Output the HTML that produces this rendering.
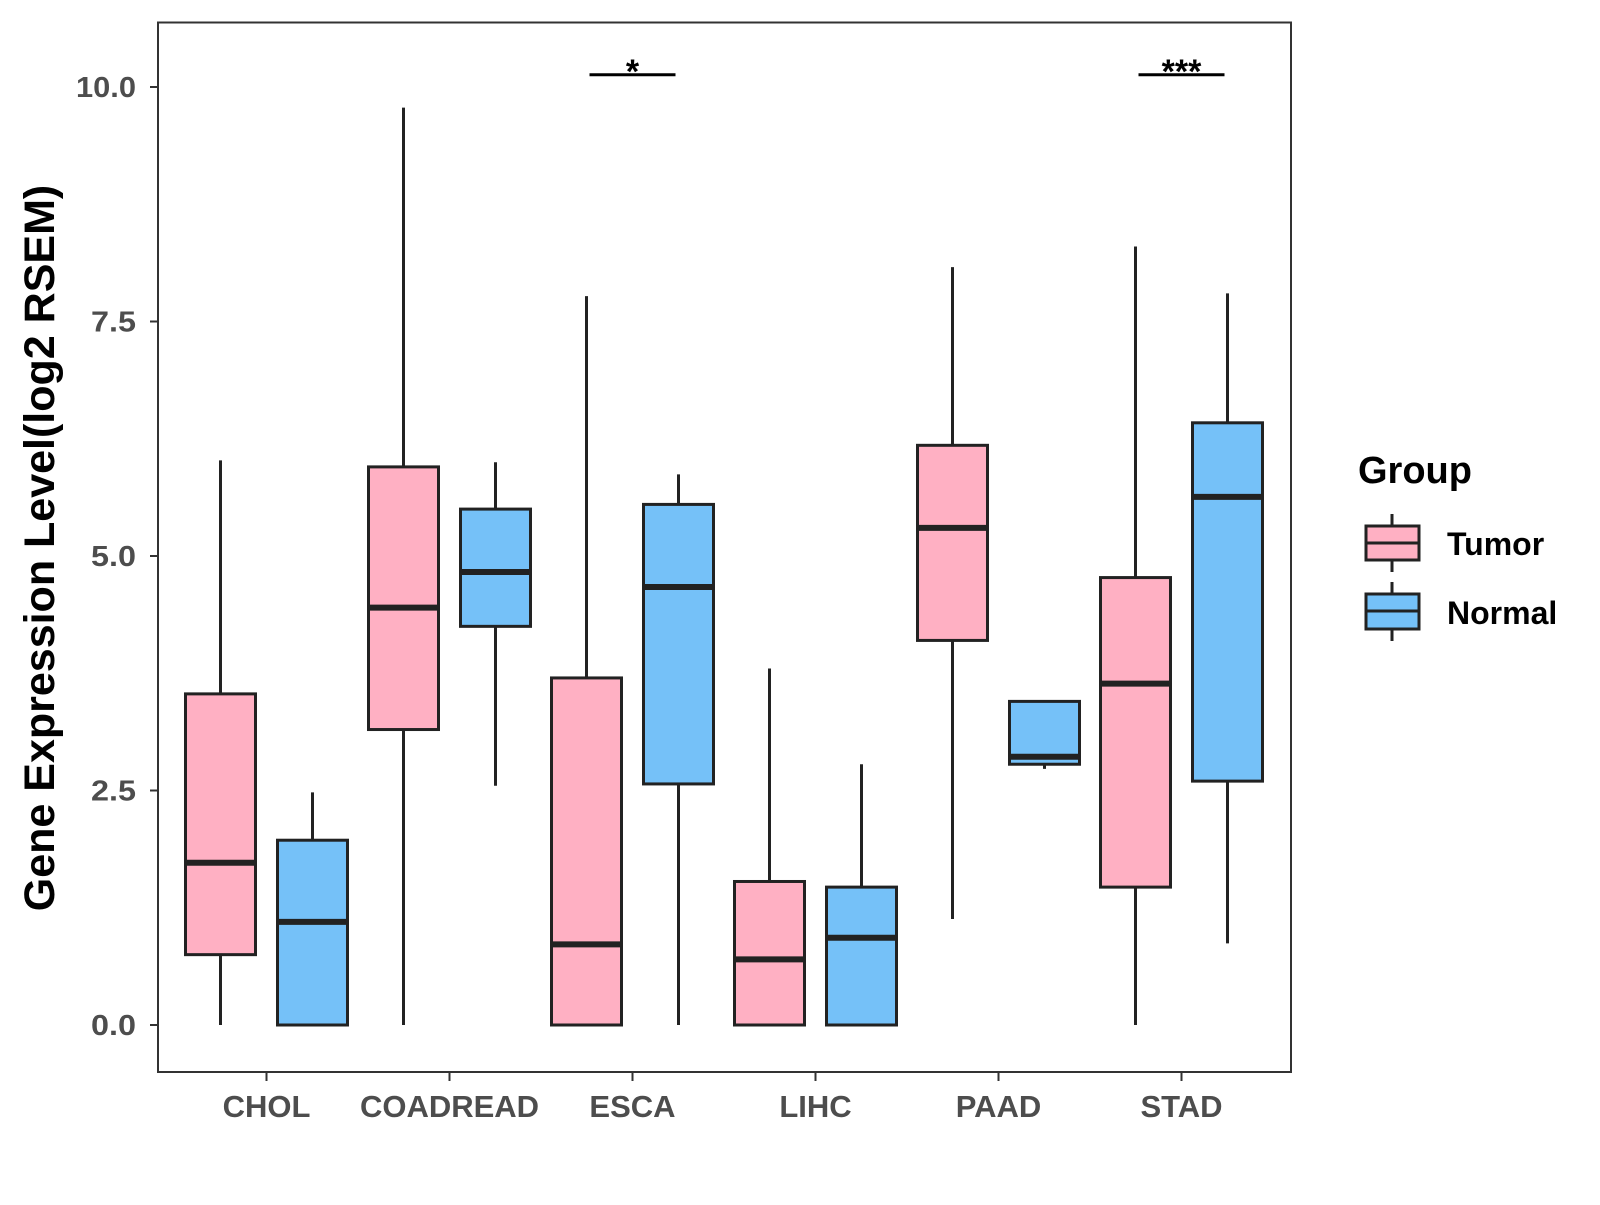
<!DOCTYPE html>
<html><head><meta charset="utf-8"><style>
body{margin:0;background:#fff}
svg text{font-family:"Liberation Sans",Arial,sans-serif;font-weight:bold}
</style></head><body>
<svg id="chart" width="1600" height="1200" viewBox="0 0 1600 1200" xmlns="http://www.w3.org/2000/svg">
<rect x="0" y="0" width="1600" height="1200" fill="#fff"/>
<rect x="158" y="22.5" width="1133" height="1049.5" fill="none" stroke="#333" stroke-width="2"/>
<g id="marks"></g>
<text transform="translate(54,548) rotate(-90)" text-anchor="middle" font-size="43" fill="#000">Gene Expression Level(log2 RSEM)</text>
<g>
<text x="1358" y="483" font-size="38" fill="#000">Group</text>
<g>
<line x1="1392" y1="514" x2="1392" y2="572" stroke="#222" stroke-width="3"/>
<rect x="1366" y="526" width="53" height="34" fill="#FFB0C3" stroke="#222" stroke-width="3"/>
<line x1="1366" y1="543" x2="1419" y2="543" stroke="#222" stroke-width="3"/>
<text x="1447" y="555" font-size="32" fill="#000">Tumor</text>
</g>
<g>
<line x1="1392" y1="582" x2="1392" y2="641" stroke="#222" stroke-width="3"/>
<rect x="1366" y="594" width="53" height="35" fill="#75C1F8" stroke="#222" stroke-width="3"/>
<line x1="1366" y1="611" x2="1419" y2="611" stroke="#222" stroke-width="3"/>
<text x="1447" y="624" font-size="32" fill="#000">Normal</text>
</g>
</g>
</svg>
<script>
const categories = ["CHOL","COADREAD","ESCA","LIHC","PAAD","STAD"];
// [whiskerLow, q1, median, q3, whiskerHigh]
const tumorStats = [[0,0.75,1.73,3.53,6.02],[0,3.15,4.45,5.95,9.78],[0,0,0.86,3.7,7.77],[0,0,0.7,1.53,3.8],[1.13,4.1,5.3,6.18,8.08],[0,1.47,3.64,4.77,8.3]];
const normalStats = [[0,0,1.1,1.97,2.48],[2.55,4.25,4.83,5.5,6.0],[0,2.57,4.67,5.55,5.87],[0,0,0.93,1.47,2.78],[2.73,2.78,2.86,3.45,3.45],[0.87,2.6,5.63,6.42,7.8]];
const yTicks = [0,2.5,5,7.5,10];
const yTickLabels = ["0.0","2.5","5.0","7.5","10.0"];
const sigCategories = ["ESCA","STAD"];
const sigLabels = ["*","***"];
const sigLevel = 10.13;

const NS="http://www.w3.org/2000/svg";
const g=document.getElementById('marks');
const y=v=>1025-v*93.8;
const x=i=>266.5+i*183;
function mk(tag,a){const e=document.createElementNS(NS,tag);for(const k in a)e.setAttribute(k,a[k]);g.appendChild(e);return e;}
yTicks.forEach((t,i)=>{
  const l=mk('line',{x1:150,x2:158,y1:y(t),y2:y(t),stroke:'#333','stroke-width':2});
  
  
  const tx=mk('text',{x:136,y:y(t)+10,'text-anchor':'end','font-size':29,fill:'#4d4d4d',textLength:String(yTickLabels[i].length*15),lengthAdjust:'spacingAndGlyphs'});
  tx.textContent=yTickLabels[i];
  
  
});
categories.forEach((c,i)=>{
  const l=mk('line',{x1:x(i),x2:x(i),y1:1072,y2:1081,stroke:'#333','stroke-width':2});
  
  
  const tx=mk('text',{x:x(i),y:1117,'text-anchor':'middle','font-size':31,fill:'#4d4d4d'});
  tx.textContent=c;
  
  
  [[tumorStats[i],-46,'#FFB0C3','tumor'],[normalStats[i],46,'#75C1F8','normal']].forEach(([s,off,col,nm])=>{
    const cx=x(i)+off, hw=35;
    const wl=mk('line',{x1:cx,x2:cx,y1:y(s[0]),y2:y(s[4]),stroke:'#222','stroke-width':3});
    
    
    const r=mk('rect',{x:cx-hw,y:y(s[3]),width:2*hw,height:Math.max(y(s[1])-y(s[3]),0.5),fill:col,stroke:'#222','stroke-width':3});
    
    
    const m=mk('line',{x1:cx-hw,x2:cx+hw,y1:y(s[2]),y2:y(s[2]),stroke:'#222','stroke-width':6});
    
    
  });
});
sigCategories.forEach((c,k)=>{
  const i=categories.indexOf(c);
  const l=mk('line',{x1:x(i)-43,x2:x(i)+43,y1:y(sigLevel),y2:y(sigLevel),stroke:'#000','stroke-width':3});
  
  
  const t=mk('text',{x:x(i),y:y(sigLevel)+8,'text-anchor':'middle','font-size':34,fill:'#000'});
  t.textContent=sigLabels[k];
  
  
});
</script>
</body></html>
